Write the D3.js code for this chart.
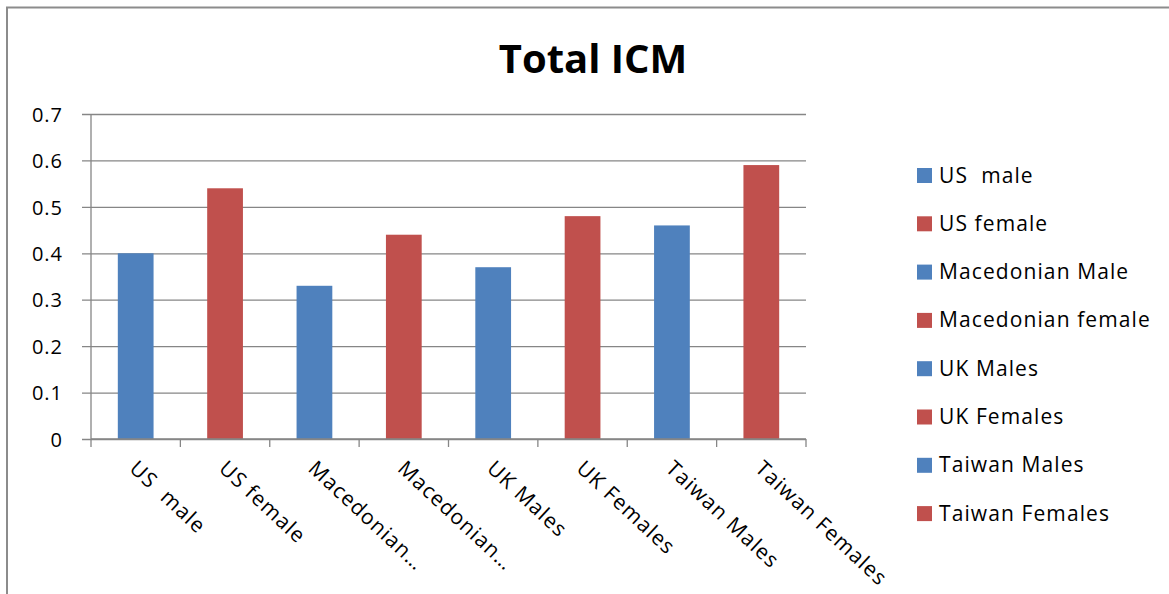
<!DOCTYPE html>
<html>
<head>
<meta charset="utf-8">
<script src="https://cdn.jsdelivr.net/npm/d3@7"></script>
<style>
  body { margin: 0; background: #fff; }
  svg { display: block; font-family: 'Open Sans', Lato, sans-serif; }
</style>
</head>
<body>
<div id="chart"></div>
<script>
const categories = [
  'US  male', 'US female', 'Macedonian Male', 'Macedonian female',
  'UK Males', 'UK Females', 'Taiwan Males', 'Taiwan Females',
]
const axisLabels = [
  'US  male', 'US female', 'Macedonian…', 'Macedonian…',
  'UK Males', 'UK Females', 'Taiwan Males', 'Taiwan Females',
]
const values = [0.40, 0.54, 0.33, 0.44, 0.37, 0.48, 0.46, 0.59]
const yTicks = [0, 0.1, 0.2, 0.3, 0.4, 0.5, 0.6, 0.7]
const barColors = ['#4F81BD', '#C0504D']

const width = 1169
const height = 594
const plot = { left: 91, right: 806, top: 114, bottom: 439 }
const fontFamily = "'Open Sans', Lato, sans-serif"
const labelSize = 21
const labelSpacing = '1.1px'

const svg = d3.select('#chart')
  .append('svg')
  .attr('width', width)
  .attr('height', height)

// chart frame
svg.append('path')
  .attr('d', `M7,${height + 2} V7.5 H${width + 2}`)
  .attr('fill', 'none')
  .attr('stroke', '#8c8c8c')
  .attr('stroke-width', 2)

svg.append('text')
  .attr('x', 593)
  .attr('y', 73)
  .attr('text-anchor', 'middle')
  .attr('font-size', 40)
  .attr('font-weight', 'bold')
  .text('Total ICM')

const x = d3.scaleBand()
  .domain(categories)
  .range([plot.left, plot.right])
  .paddingInner(0.6)
  .paddingOuter(0.3)

const xTicks = d3.scaleBand()
  .domain(categories)
  .range([plot.left, plot.right])

const y = d3.scaleLinear()
  .domain([0, 0.7])
  .range([plot.bottom, plot.top])

// gridlines + y ticks
const yAxis = svg.append('g')
  .attr('transform', `translate(${plot.left},0)`)
  .call(d3.axisLeft(y)
    .tickValues(yTicks)
    .tickSize(-(plot.right - plot.left))
    .tickPadding(28)
    .tickFormat(d => d === 0 ? '0' : d3.format('.1f')(d)))
yAxis.select('.domain').remove()
yAxis.selectAll('.tick line')
  .attr('x1', -9)
  .attr('stroke', '#868686')
  .attr('stroke-width', 1.3)
yAxis.selectAll('.tick text')
  .attr('font-size', 20)
  .attr('font-family', fontFamily)
  .attr('letter-spacing', '1px')
  .attr('fill', '#000')
  .attr('dy', '0.36em')

svg.append('line')
  .attr('x1', plot.left).attr('x2', plot.left)
  .attr('y1', plot.top).attr('y2', plot.bottom)
  .attr('stroke', '#868686')
  .attr('stroke-width', 1.3)

// bars
svg.append('g')
  .selectAll('rect')
  .data(values)
  .join('rect')
  .attr('x', (d, i) => x(categories[i]))
  .attr('width', x.bandwidth())
  .attr('y', d => y(d))
  .attr('height', d => y(0) - y(d))
  .attr('fill', (d, i) => barColors[i % 2])

// x axis line and ticks
const xg = svg.append('g')
xg.append('line')
  .attr('x1', plot.left).attr('x2', plot.right)
  .attr('y1', plot.bottom).attr('y2', plot.bottom)
  .attr('stroke', '#868686')
  .attr('stroke-width', 1.3)
xg.selectAll('.xtick')
  .data([...categories.map(c => xTicks(c)), plot.right])
  .join('line')
  .attr('x1', d => d).attr('x2', d => d)
  .attr('y1', plot.bottom).attr('y2', plot.bottom + 8)
  .attr('stroke', '#868686')
  .attr('stroke-width', 1.3)

xg.selectAll('.xlabel')
  .data(axisLabels)
  .join('text')
  .attr('transform', (d, i) => {
    const cx = xTicks(categories[i]) + xTicks.bandwidth() / 2
    return `translate(${cx + 3},${plot.bottom + 20}) rotate(43)`
  })
  .attr('font-size', labelSize)
  .attr('letter-spacing', labelSpacing)
  .attr('dy', '0.72em')
  .style('white-space', 'pre')
  .text(d => d)

// legend
const legend = svg.append('g')
  .attr('transform', 'translate(917,175)')
const rows = legend.selectAll('g')
  .data(categories)
  .join('g')
  .attr('transform', (d, i) => `translate(0,${i * 48.3})`)
rows.append('rect')
  .attr('x', 0)
  .attr('y', -7)
  .attr('width', 15)
  .attr('height', 15)
  .attr('fill', (d, i) => barColors[i % 2])
rows.append('text')
  .attr('x', 22)
  .attr('y', 0)
  .attr('dy', '0.36em')
  .attr('font-size', labelSize)
  .attr('letter-spacing', labelSpacing)
  .style('white-space', 'pre')
  .text(d => d)
</script>
</body>
</html>
